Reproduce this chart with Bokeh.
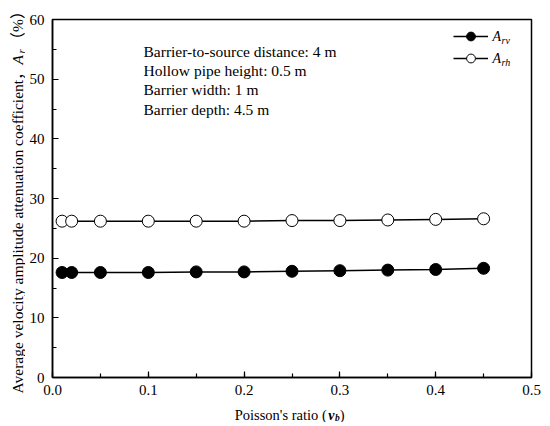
import math
from bokeh.plotting import figure
from bokeh.layouts import row, column
from bokeh.models import (Label, Legend, LegendItem, Range1d, SingleIntervalTicker,
                          NumeralTickFormatter)
from bokeh.embed import file_html
from bokeh.resources import INLINE

# ---- data ----
poisson = [0.01, 0.02, 0.05, 0.10, 0.15, 0.20, 0.25, 0.30, 0.35, 0.40, 0.45]
a_rv = [17.6, 17.6, 17.6, 17.6, 17.7, 17.7, 17.8, 17.9, 18.0, 18.1, 18.3]
a_rh = [26.2, 26.2, 26.2, 26.2, 26.2, 26.2, 26.3, 26.3, 26.4, 26.5, 26.6]
notes = ["Barrier-to-source distance: 4 m",
         "Hollow pipe height: 0.5 m",
         "Barrier width: 1 m",
         "Barrier depth: 4.5 m"]
y_label_main = "Average velocity amplitude attenuation coefficient\uff0c"
y_label_sym = "A"
y_label_sub = "r"
y_label_unit = "\uff08%\uff09"
x_label_main = "Poisson's ratio ("
x_label_sym = "v"
x_label_sub = "b"
x_label_end = ")"
legend_syms = ["A", "A"]
legend_subs = ["rv", "rh"]

FONT = "'Liberation Serif', 'Noto Sans CJK SC'"

# layout geometry (picture pixels): frame left 52, right 531, top 19, bottom 377
YW = 25          # width of the strip holding the y-axis title
TOTAL_W = 542
MAIN_H = 404
XH = 18          # height of the strip holding the x-axis title
TOTAL_H = MAIN_H + XH

p = figure(width=TOTAL_W - YW, height=MAIN_H, output_backend="svg", toolbar_location=None,
           x_range=Range1d(0, 0.5), y_range=Range1d(0, 60),
           min_border_left=52 - YW, min_border_right=TOTAL_W - 531, min_border_top=19,
           min_border_bottom=MAIN_H - 377, background_fill_color="white",
           border_fill_color="white")
p.grid.visible = False
p.outline_line_color = "black"
p.outline_line_width = 1.5

p.xaxis.ticker = SingleIntervalTicker(interval=0.1, num_minor_ticks=2)
p.yaxis.ticker = SingleIntervalTicker(interval=10, num_minor_ticks=2)
p.xaxis.formatter = NumeralTickFormatter(format="0.0")
for ax in (p.xaxis[0], p.yaxis[0]):
    ax.axis_line_color = "black"
    ax.axis_line_width = 1.5
    ax.major_tick_in = 6
    ax.major_tick_out = 0
    ax.minor_tick_in = 4
    ax.minor_tick_out = 0
    ax.major_tick_line_color = "black"
    ax.minor_tick_line_color = "black"
    ax.major_tick_line_width = 1.2
    ax.minor_tick_line_width = 1.2
    ax.major_label_text_font = "Liberation Serif"
    ax.major_label_text_font_size = "15px"
    ax.major_label_text_color = "black"
p.xaxis.major_label_standoff = 7
p.yaxis.major_label_standoff = 8

l_rv = p.line(poisson, a_rv, line_color="black", line_width=1.5)
s_rv = p.scatter(poisson, a_rv, size=12, fill_color="black", line_color="black", line_width=1)
l_rh = p.line(poisson, a_rh, line_color="black", line_width=1.5)
s_rh = p.scatter(poisson, a_rh, size=12, fill_color="white", line_color="black", line_width=1)

legend = Legend(items=[LegendItem(label=" ", renderers=[l_rv, s_rv]),
                       LegendItem(label=" ", renderers=[l_rh, s_rh])],
                location=(401, 308), glyph_width=35, glyph_height=22, label_height=22,
                spacing=0, padding=0, margin=0, label_width=0, label_standoff=0,
                border_line_alpha=0, background_fill_alpha=0)
p.add_layout(legend)


def dx(px):
    return (px - 52) / 958.0


def dy(py):
    return (377 - py) / 5.967


def lab(fig, x, y, t, size="14px", style="normal", align="left", baseline="middle", angle=0):
    fig.add_layout(Label(x=x, y=y, text=t, text_font=FONT, text_font_size=size,
                         text_font_style=style, text_align=align, text_baseline=baseline,
                         angle=angle, text_color="black"))


# notes
for i, t in enumerate(notes):
    lab(p, dx(143), dy(50.7 + 19.3 * i), t, size="15.5px", baseline="alphabetic")

# legend texts
for i, (s, sub) in enumerate(zip(legend_syms, legend_subs)):
    cy = 36 + 22 * i
    lab(p, dx(492), dy(cy), s, style="italic")
    lab(p, dx(501), dy(cy + 4), sub, size="10px", style="italic")


def strip(w, h, xr, yr):
    f = figure(width=w, height=h, output_backend="svg", toolbar_location=None,
               x_range=Range1d(*xr), y_range=Range1d(*yr),
               x_axis_type=None, y_axis_type=None,
               min_border=0, min_border_left=0, min_border_right=0,
               min_border_top=0, min_border_bottom=0,
               background_fill_color="white", border_fill_color="white")
    f.outline_line_color = None
    f.grid.visible = False
    return f


# y-axis title strip: coordinates equal picture pixels
ys = strip(YW, TOTAL_H, (0, YW), (TOTAL_H, 0))
A = math.pi / 2
lab(ys, 17, 393, y_label_main, size="15.5px", angle=A)
lab(ys, 17, 64, y_label_sym, size="15.5px", style="italic", angle=A)
lab(ys, 20, 53, y_label_sub, size="11px", style="italic", angle=A)
lab(ys, 17, 47, y_label_unit, size="15.5px", angle=A)

# x-axis title strip: coordinates equal picture pixels
xs = strip(TOTAL_W - YW, XH, (YW, TOTAL_W), (TOTAL_H, MAIN_H))
lab(xs, 321, 414.5, x_label_main, size="14.5px", align="right", baseline="alphabetic")
lab(xs, 322.5, 414.5, x_label_sym, size="14px", style="bold italic", baseline="alphabetic")
lab(xs, 330, 417, x_label_sub, size="9.5px", style="bold italic", baseline="alphabetic")
lab(xs, 335, 414.5, x_label_end, size="14.5px", baseline="alphabetic")

layout = row(ys, column(p, xs, spacing=0), spacing=0)
open("out.html", "w").write(file_html(layout, INLINE))
